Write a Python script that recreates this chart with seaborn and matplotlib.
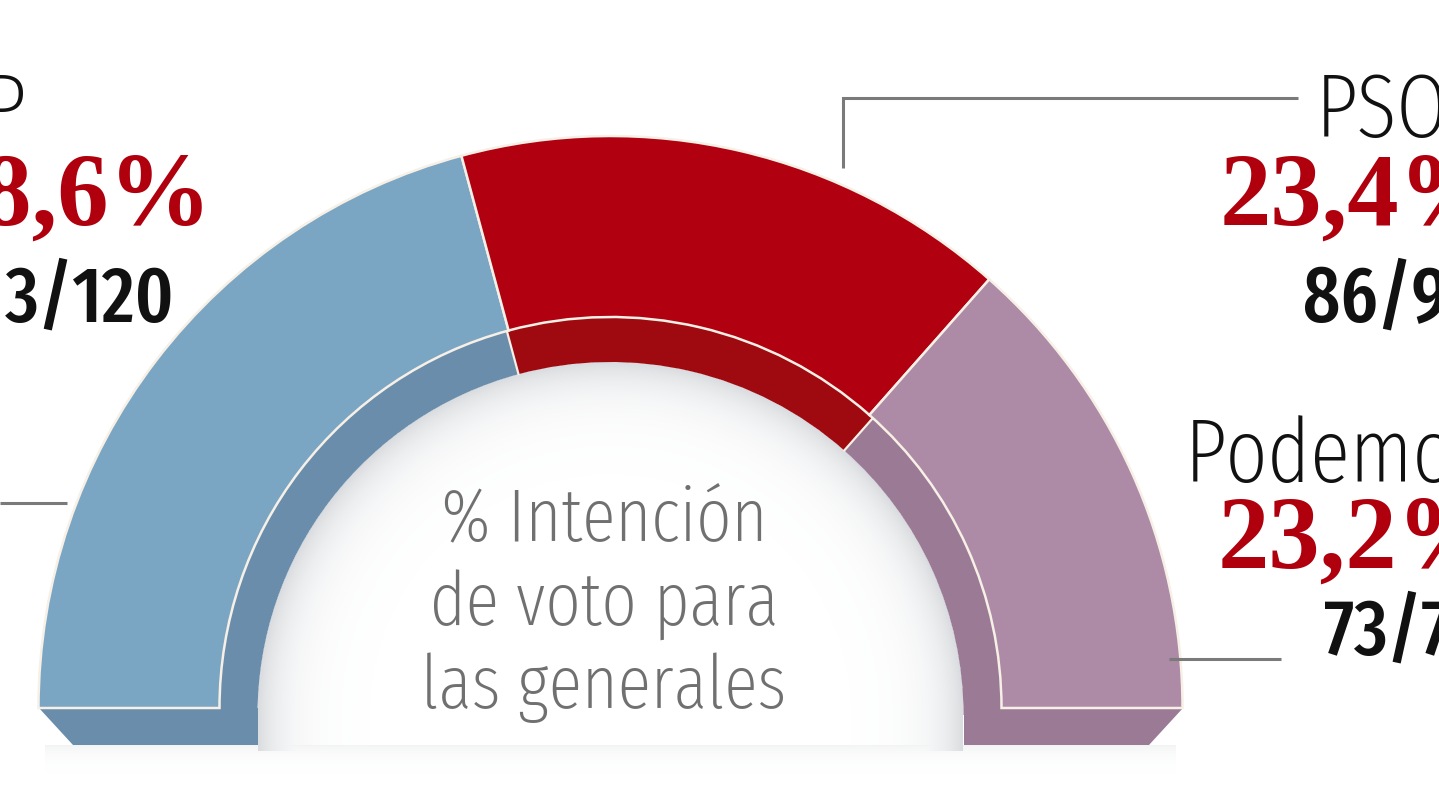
import os
import numpy as np
import matplotlib
matplotlib.use("Agg")
import matplotlib.pyplot as plt
from matplotlib import font_manager as fm
from matplotlib.patches import Wedge, Polygon
import seaborn as sns

# ---------------- data ----------------
parties = ["PP", "PSOE", "Podemos"]
vote_pct = [28.6, 23.4, 23.2]
seats_low = [113, 86, 73]
seats_high = [120, 90, 78]
center_lines = ["% Intención", "de voto para", "las generales"]

front_colors = ["#7aa5c3", "#b1000f", "#ad8aa6"]
side_colors = ["#6a8dab", "#9f0a10", "#9b7a95"]
pct_color = "#b0000e"
sep_color = "#f6f0e6"

sns.set_theme(style="white")
plt.rcParams["font.family"] = ["DejaVu Sans"]

_bases = {}
for _f in fm.fontManager.ttflist:
    _bases.setdefault(os.path.basename(_f.fname).lower(), _f.fname)


def pick_font(token_sets, fallback):
    for tokens in token_sets:
        for b in sorted(_bases):
            if "italic" in b:
                continue
            if all(t in b for t in tokens):
                return fm.FontProperties(fname=_bases[b])
    return fallback


light_cond = pick_font(
    [("extracondensed", "light"), ("extracondensed", "regular"),
     ("condensed", "light"), ("condensed", "regular"), ("narrow", "regular"),
     ("condensed",)],
    fm.FontProperties(family=["Roboto", "DejaVu Sans"], weight="light"))
med_cond = pick_font(
    [("extracondensed", "medium"), ("extracondensed", "semibold"),
     ("condensed", "medium"), ("condensed", "semibold"), ("narrow", "bold"),
     ("condensed", "bold")],
    fm.FontProperties(family=["Roboto", "DejaVu Sans"], weight="medium"))
serif_bold = fm.FontProperties(family=["Liberation Serif", "DejaVu Serif"], weight="bold")


def fp(base, size):
    f = base.copy()
    f.set_size(size)
    return f


W, H = 1439, 810
fig = plt.figure(figsize=(W / 100, H / 100), dpi=100)
ax = fig.add_axes([0, 0, 1, 1])
ax.set_axis_off()
ax.set_xlim(0, W)
ax.set_ylim(H, 0)
renderer = fig.canvas.get_renderer()


def fit_size(text, prop, target_px, lo, hi, base=60.0):
    t = ax.text(0, 0, text, fontproperties=fp(prop, base))
    w = t.get_window_extent(renderer).width
    t.remove()
    return float(np.clip(base * target_px / w, lo, hi))


# geometry (pixel space, y downward)
cx = 610.5
cy_front, R_front, r_front = 708.0, 572.0, 391.0
cy_back, R_back, r_back = 715.0, 560.0, 353.0
base_bottom = 745.0

mids = [(lo + hi) / 2 for lo, hi in zip(seats_low, seats_high)]
spans = [m / sum(mids) * 180.0 for m in mids]
edges = [180.0]
for s in spans:
    edges.append(edges[-1] + s)

# soft shadow inside the arch and under the base
yy, xx = np.mgrid[0:H, 0:W] + 0.5
dist_c = np.hypot(xx - cx, yy - cy_back)
d = np.where(yy <= cy_back, r_back - dist_c, r_back - np.abs(xx - cx))
alpha = np.where((d > 0) & (yy <= base_bottom + 6), 0.30 * np.exp(-np.clip(d, 0, None) / 26.0), 0.0)
below = (yy > base_bottom) & (xx > 45) & (xx < 1176)
alpha = np.maximum(alpha, np.where(below, 0.10 * np.exp(-(yy - base_bottom) / 9.0), 0.0))
img = np.zeros((H, W, 4))
img[..., 0] = 0.50
img[..., 1] = 0.53
img[..., 2] = 0.57
img[..., 3] = alpha
ax.imshow(img, extent=(0, W, H, 0), origin="upper", zorder=0, interpolation="bilinear")

# side / depth of the arch (darker tones)
for i in range(3):
    ax.add_patch(Wedge((cx, cy_back), R_back, edges[i], edges[i + 1],
                       width=R_back - r_back, facecolor=side_colors[i],
                       edgecolor="none", zorder=1))
xl_in = cx - r_back
xr_in = cx + r_back
ax.add_patch(Polygon([(cx - R_front, cy_front), (xl_in, cy_front), (xl_in, base_bottom),
                      (cx - R_front + 34, base_bottom)], closed=True,
                     facecolor=side_colors[0], edgecolor="none", zorder=1))
ax.add_patch(Polygon([(cx + R_front, cy_front), (xr_in, cy_front), (xr_in, base_bottom),
                      (cx + R_front - 34, base_bottom)], closed=True,
                     facecolor=side_colors[2], edgecolor="none", zorder=1))
for t in edges[1:-1]:
    rad = np.deg2rad(t)
    ax.plot([cx + (r_back - 1) * np.cos(rad), cx + (r_back + 70) * np.cos(rad)],
            [cy_back + (r_back - 1) * np.sin(rad), cy_back + (r_back + 70) * np.sin(rad)],
            color=sep_color, lw=1.6, zorder=1.5, solid_capstyle="butt")

# front face
for i in range(3):
    ax.add_patch(Wedge((cx, cy_front), R_front, edges[i], edges[i + 1],
                       width=R_front - r_front, facecolor=front_colors[i],
                       edgecolor=sep_color, lw=1.8, zorder=2))

# leader lines
lc = "#7a7a7a"
ax.plot([0, 67], [503, 503], color=lc, lw=2.2, zorder=3, solid_capstyle="butt")
ax.plot([843, 843, 1298], [168, 98, 98], color=lc, lw=2.2, zorder=3,
        solid_capstyle="butt", solid_joinstyle="miter")
ax.plot([1169, 1281], [659, 659], color=lc, lw=2.2, zorder=3, solid_capstyle="butt")

# labels
pct_labels = [f"{v:.1f}%".replace(".", ",") for v in vote_pct]
seat_labels = [f"{lo}/{hi}" for lo, hi in zip(seats_low, seats_high)]

fs_name = fit_size(parties[2], light_cond, 305, 64, 80)
fs_center = fit_size(center_lines[2], light_cond, 365, 52, 64)
fs_seat = fit_size(seat_labels[0], med_cond, 228, 56, 66)
fs_pct = 74
name_kw = dict(fontproperties=fp(light_cond, fs_name), color="#111111", va="baseline", zorder=4)
pct_kw = dict(fontproperties=fp(serif_bold, fs_pct), color=pct_color, va="baseline", zorder=4)
seat_kw = dict(fontproperties=fp(med_cond, fs_seat), color="#111111", va="baseline", zorder=4)

# PP (left, cut by the edge)
ax.text(27, 137, parties[0], ha="right", **name_kw)
ax.text(212, 225, pct_labels[0], ha="right", **pct_kw)
ax.text(174, 322, seat_labels[0], ha="right", **seat_kw)
# PSOE (top right)
ax.text(1316, 137, parties[1], ha="left", **name_kw)
ax.text(1220, 225, pct_labels[1], ha="left", **pct_kw)
ax.text(1303, 322, seat_labels[1], ha="left", **seat_kw)
# Podemos (right)
ax.text(1185, 482, parties[2], ha="left", **name_kw)
ax.text(1218, 568, pct_labels[2], ha="left", **pct_kw)
ax.text(1324, 655, seat_labels[2], ha="left", **seat_kw)

# centre caption
for line, yb in zip(center_lines, [540, 626, 708]):
    ax.text(604, yb, line, ha="center", va="baseline",
            fontproperties=fp(light_cond, fs_center), color="#707070", zorder=4)

ax.set_xlim(0, W)
ax.set_ylim(H, 0)
fig.savefig("out.png", dpi=100, facecolor="white")
